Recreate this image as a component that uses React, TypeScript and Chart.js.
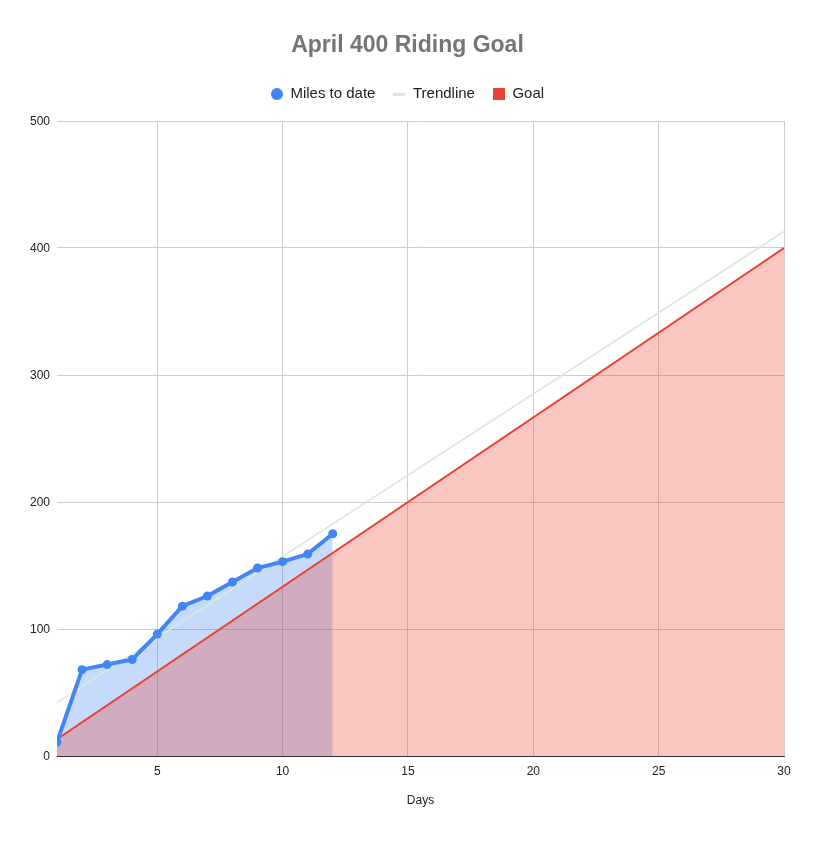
import React, { useEffect, useRef } from "react";
import { Chart, registerables } from "chart.js";

Chart.register(...registerables);

const days = [1, 2, 3, 4, 5, 6, 7, 8, 9, 10, 11, 12];
const milesToDate = [11, 68, 72, 76, 96, 118, 126, 137, 148, 153, 159, 175];
const trendDays = [1, 30];
const trendMiles = [42, 413];
const goalDays = [1, 30];
const goalMiles = [13.3, 400];
const xTicks = [5, 10, 15, 20, 25, 30];
const yTicks = [0, 100, 200, 300, 400, 500];

const FONT = "'Liberation Sans', Arial, sans-serif";

function markerCanvas(kind: string, color: string) {
  const c = document.createElement("canvas");
  const w = 12;
  const h = kind === "line" ? 3 : 12;
  c.width = w;
  c.height = h;
  const ctx = c.getContext("2d")!;
  ctx.fillStyle = color;
  if (kind === "circle") {
    ctx.beginPath();
    ctx.arc(6, 6, 6, 0, Math.PI * 2);
    ctx.fill();
  } else {
    ctx.fillRect(0, 0, w, h);
  }
  return c;
}

export default function App() {
  const ref = useRef<HTMLCanvasElement>(null);
  useEffect(() => {
    if (!ref.current) return;
    const markers = [
      markerCanvas("circle", "#4285F4"),
      markerCanvas("line", "#d9ead3"),
      markerCanvas("rect", "#EA4335"),
    ];
    const legendMargin = {
      id: "legendMargin",
      beforeInit(chart: any) {
        const orig = chart.legend.fit;
        chart.legend.fit = function () {
          orig.call(this);
          this.height += 9.4;
        };
      },
    };
    const milesPoints = days.map((d, i) => ({ x: d, y: milesToDate[i] }));
    const chart = new Chart(ref.current, {
      type: "line",
      data: {
        datasets: [
          {
            label: "Miles to date",
            data: milesPoints,
            borderColor: "#4285F4",
            backgroundColor: "#4285F4",
            borderWidth: 4,
            pointRadius: 4.5,
            pointBackgroundColor: "#4285F4",
            pointBorderWidth: 0,
            fill: false,
            tension: 0,
            order: 0,
          },
          {
            label: "Trendline",
            data: trendDays.map((d, i) => ({ x: d, y: trendMiles[i] })),
            borderColor: "#d9ead3",
            backgroundColor: "#d9ead3",
            borderWidth: 1.6,
            pointRadius: 0,
            fill: false,
            order: 1,
          },
          {
            label: "Goal",
            data: goalDays.map((d, i) => ({ x: d, y: goalMiles[i] })),
            borderColor: "#EA4335",
            backgroundColor: "#EA4335",
            borderWidth: 2,
            pointRadius: 0,
            fill: { target: "origin", above: "rgba(234,67,53,0.3)" },
            order: 2,
          },
          {
            label: "_milesArea",
            data: milesPoints,
            borderColor: "rgba(0,0,0,0)",
            borderWidth: 0,
            pointRadius: 0,
            fill: { target: "origin", above: "rgba(66,133,244,0.3)" },
            order: 3,
          },
        ],
      },
      options: {
        animation: false,
        responsive: false,
        layout: { padding: { left: 0, right: 0, top: 0, bottom: 0 } },
        plugins: {
          title: {
            display: true,
            text: "April 400 Riding Goal",
            color: "#757575",
            font: { family: FONT, size: 23, weight: "bold" },
            padding: { top: 32, bottom: 9 },
          },
          legend: {
            display: true,
            position: "top",
            labels: {
              usePointStyle: true,
              boxWidth: 12,
              boxHeight: 12,
              padding: 18,
              color: "#222222",
              font: { family: FONT, size: 15 },
              generateLabels(chart: any) {
                const items = Chart.defaults.plugins.legend.labels.generateLabels(chart);
                return items
                  .filter((it: any) => it.datasetIndex < 3)
                  .sort((a: any, b: any) => a.datasetIndex - b.datasetIndex)
                  .map((it: any) => ({ ...it, pointStyle: markers[it.datasetIndex] }));
              },
            },
          },
          tooltip: { enabled: false },
        },
        scales: {
          x: {
            type: "linear",
            min: 1,
            max: 30,
            afterBuildTicks(scale: any) {
              scale.ticks = xTicks.map((v) => ({ value: v }));
            },
            afterFit(scale: any) {
              scale.height = 93;
            },
            grid: { color: "#cccccc", drawTicks: false, lineWidth: 1 },
            border: { display: true, color: "#333333", width: 1 },
            ticks: {
              color: "#222222",
              font: { family: FONT, size: 12 },
              padding: 8,
              maxRotation: 0,
            },
            title: {
              display: true,
              text: "Days",
              color: "#222222",
              font: { family: FONT, size: 12 },
              padding: { top: 0, bottom: 41 },
            },
          },
          y: {
            type: "linear",
            min: 0,
            max: 500,
            afterBuildTicks(scale: any) {
              scale.ticks = yTicks.map((v) => ({ value: v }));
            },
            afterFit(scale: any) {
              scale.width = 57;
            },
            grid: {
              color: (ctx: any) => (ctx.tick && ctx.tick.value === 0 ? "#333333" : "#cccccc"),
              drawTicks: false,
              lineWidth: 1,
            },
            border: { display: false },
            ticks: {
              color: "#222222",
              font: { family: FONT, size: 12 },
              padding: 7,
              labelOffset: 1,
            },
          },
          yRight: {
            type: "linear",
            position: "right",
            min: 0,
            max: 500,
            display: true,
            grid: { display: false, drawTicks: false },
            border: { display: false },
            ticks: { display: false },
            afterFit(scale: any) {
              scale.width = 31;
            },
          },
        },
      },
      plugins: [legendMargin],
    } as any);
    return () => chart.destroy();
  }, []);
  return (
    <div style={{ position: "fixed", left: 0, top: 0, width: 815, height: 849, background: "#fff" }}>
      <canvas ref={ref} width={815} height={849} style={{ display: "block" }} />
    </div>
  );
}
